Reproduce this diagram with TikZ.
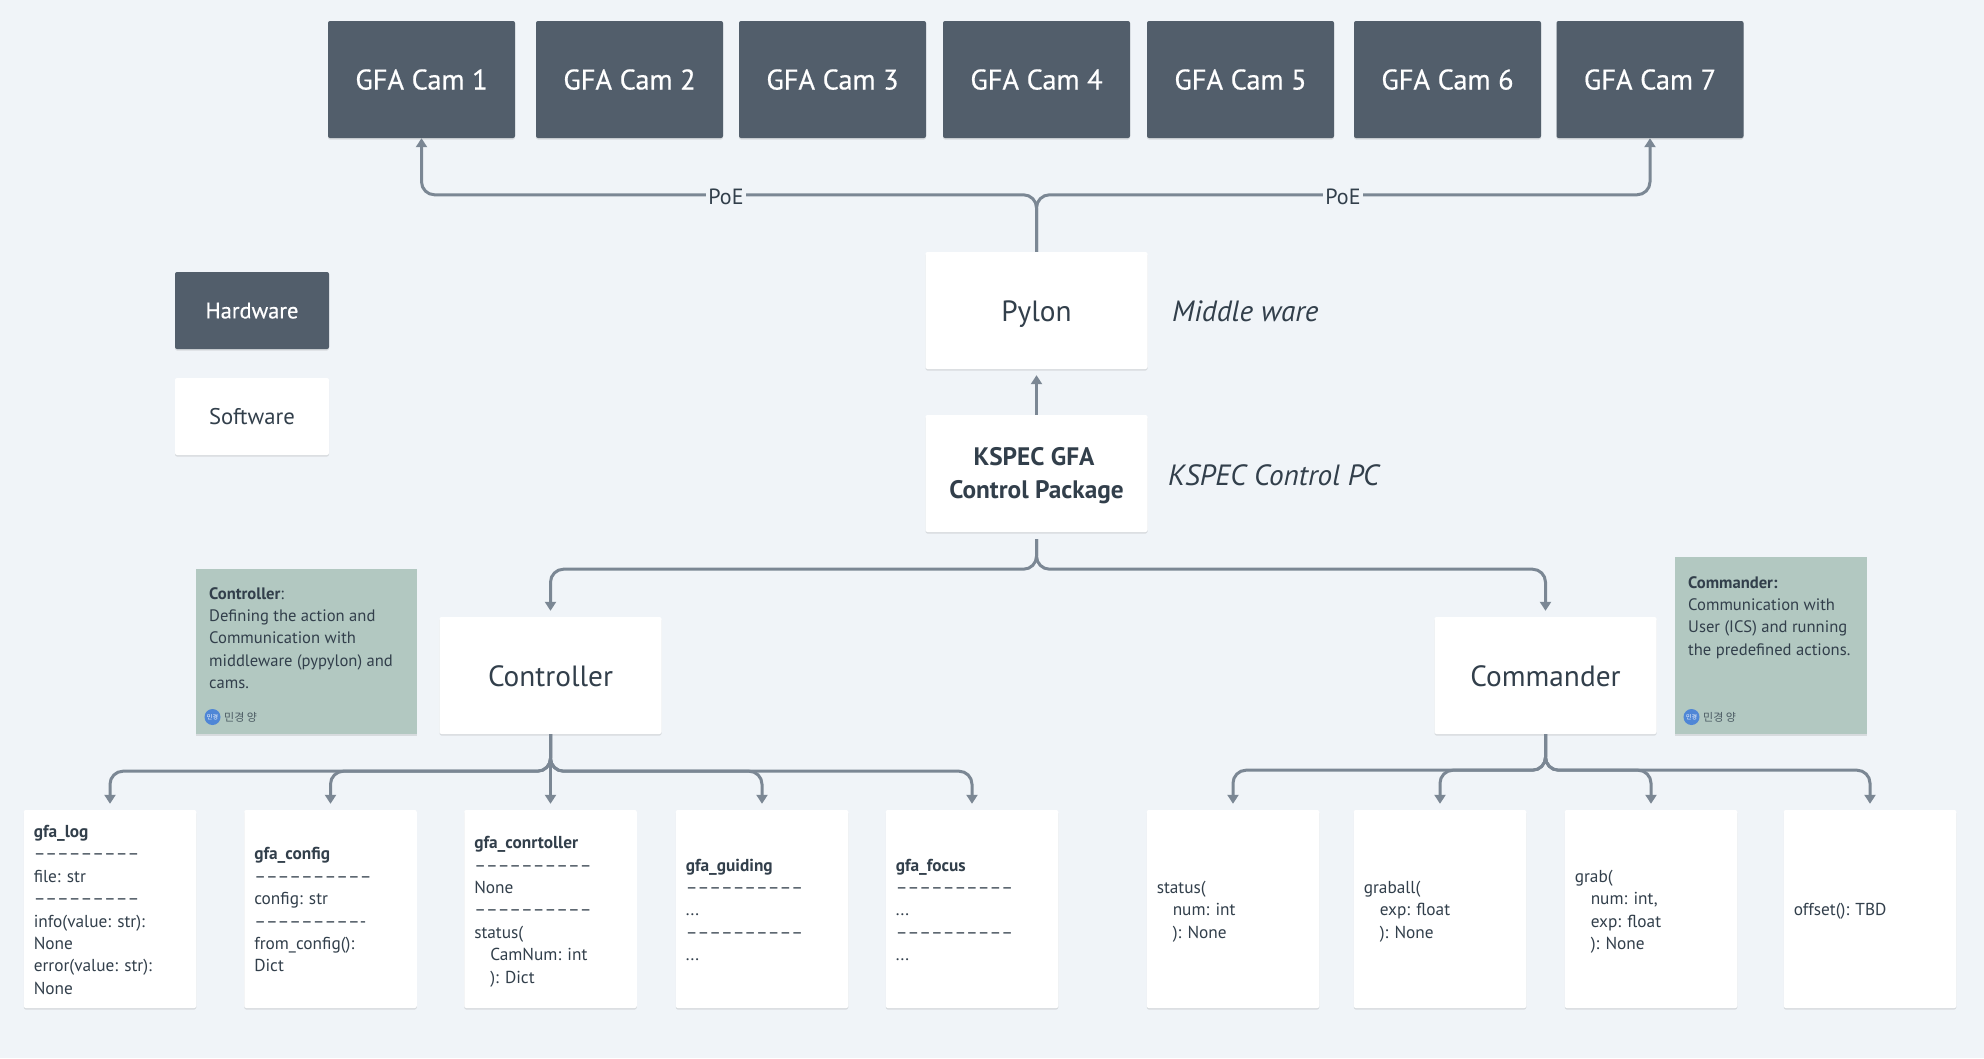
\documentclass[tikz,border=0pt]{standalone}
\usepackage{fontspec}
\setmainfont{PT Sans}
\newfontfamily\krfont{Noto Sans CJK KR}
\newfontfamily\medfont[FakeBold=0.5]{PT Sans}
\newfontfamily\dashfont{PT Sans}
\usetikzlibrary{arrows.meta,shadows,calc}
\definecolor{bgc}{HTML}{F0F4F8}
\definecolor{darkc}{HTML}{525E6B}
\definecolor{notec}{HTML}{B2C8C1}
\definecolor{txtc}{HTML}{323F4B}
\definecolor{linec}{HTML}{7B8794}
\definecolor{avac}{HTML}{4F86D6}
\newcommand{\dashes}[1]{{\dashfont\fontsize{17.8}{22.4}\selectfont #1}}
\tikzset{
  x=1pt,y=-1pt,
  softshadow/.style={general shadow={fill=black,opacity=.10,shadow yshift=-1.5pt}},
  hwbox/.style={fill=darkc,text=white,rounded corners=2pt,softshadow,inner sep=0pt,align=center},
  swbox/.style={fill=white,text=txtc,rounded corners=2pt,softshadow,inner sep=0pt,align=center},
  cam/.style={hwbox,minimum width=187pt,minimum height=117pt,font=\medfont\fontsize{28.4}{32}\selectfont,text depth=0pt,text height=20pt},
  big/.style={swbox,minimum width=222pt,minimum height=117pt,font=\fontsize{29.3}{33}\selectfont,text depth=0pt,text height=22pt},
  leaf/.style={swbox,minimum width=172.5pt,minimum height=198pt},
  leaftext/.style={anchor=west,align=left,text=txtc,inner sep=0pt,yshift=-2.5pt,font=\fontsize{17.3}{22.4}\selectfont},
  note/.style={fill=notec,softshadow,inner sep=0pt},
  notetext/.style={anchor=north west,align=left,text=txtc,inner sep=0pt,font=\fontsize{16.6}{22.4}\selectfont},
  conn/.style={draw=linec,line width=3pt,rounded corners=13pt,-{Triangle[length=9pt,width=11pt]}},
  gap/.style={shorten >=6pt},
  edgelabel/.style={fill=bgc,text=txtc,inner sep=2pt,font=\fontsize{22}{24}\selectfont},
  mid/.style={text=txtc,inner sep=0pt,font=\fontsize{29.3}{33}\itshape\selectfont},
  legendtext/.style={minimum width=154pt,minimum height=77pt,text depth=0pt},
  avatar/.style={circle,fill=avac,minimum size=16pt,inner sep=0pt,text=white,font=\krfont\fontsize{6}{6}\selectfont},
  author/.style={anchor=west,inner sep=0pt,text=txtc!80!notec,font=\krfont\fontsize{11}{13}\selectfont},
}
\begin{document}
\begin{tikzpicture}
\useasboundingbox[fill=bgc] (0,0) rectangle (1984,1058);

% cameras
\node[cam] (c1) at (421.5,79.5) {GFA Cam 1};
\node[cam] (c2) at (629.5,79.5) {GFA Cam 2};
\node[cam] (c3) at (832.5,79.5) {GFA Cam 3};
\node[cam] (c4) at (1036.5,79.5) {GFA Cam 4};
\node[cam] (c5) at (1240.5,79.5) {GFA Cam 5};
\node[cam] (c6) at (1447.5,79.5) {GFA Cam 6};
\node[cam] (c7) at (1650,79.5) {GFA Cam 7};

% legend
\node[hwbox,legendtext,font=\medfont\fontsize{22.5}{24}\selectfont] (hw) at (252,310.5) {Hardware};
\node[swbox,legendtext,font=\fontsize{22.7}{24}\selectfont] (sw) at (252,416.5) {Software};

% middle
\node[big] (pylon) at (1036.5,310.5) {Pylon};
\node[big,font=\bfseries\fontsize{25.3}{33}\selectfont,text depth=,text height=] (pkg) at (1036.5,473.5) {\rule{0pt}{22pt}KSPEC GFA\hspace*{5pt}\\Control Package};
\node[big] (ctrl) at (550.5,675.5) {Controller};
\node[big] (cmd) at (1545.5,675.5) {Commander};

\node[mid,anchor=west] (mw) at (1172,311.5) {Middle ware};
\node[mid,anchor=west] (pc) at (1168,475) {KSPEC Control PC};

% notes
\node[note,minimum width=221pt,minimum height=165pt] (n1) at (306.5,651.5) {};
\node[notetext] (n1t) at (209,587) {\textbf{Controller}:\\Defining the action and\\Communication with\\middleware (pypylon) and\\cams.};
\node[avatar] (a1) at (212.5,717) {민경};
\node[author] (a1t) at (224,717) {민경 양};
\node[note,minimum width=192pt,minimum height=177pt] (n2) at (1771,645.5) {};
\node[notetext] (n2t) at (1688,576) {\textbf{Commander:}\\Communication with\\User (ICS) and running\\the predefined actions.};
\node[avatar] (a2) at (1691.5,717) {민경};
\node[author] (a2t) at (1703,717) {민경 양};

% leaves
\node[leaf] (l1) at (110,909) {};
\node[leaf] (l2) at (330.5,909) {};
\node[leaf] (l3) at (550.5,909) {};
\node[leaf] (l4) at (762,909) {};
\node[leaf] (l5) at (972,909) {};
\node[leaf] (l6) at (1233,909) {};
\node[leaf] (l7) at (1440,909) {};
\node[leaf] (l8) at (1651,909) {};
\node[leaf] (l9) at (1870,909) {};

\node[leaftext] (t1) at ([xshift=10pt]l1.west) {\strut\textbf{gfa\_log}\\\dashes{–––––––––}\\file: str\\\dashes{–––––––––}\\info(value: str):\\None\\error(value: str):\\None\strut};
\node[leaftext] (t2) at ([xshift=10pt]l2.west) {\strut\textbf{gfa\_config}\\\dashes{––––––––––}\\config: str\\\dashes{–––––––––-}\\from\_config():\\Dict\strut};
\node[leaftext] (t3) at ([xshift=10pt]l3.west) {\strut\textbf{gfa\_conrtoller}\\\dashes{––––––––––}\\None\\\dashes{––––––––––}\\status(\\\hspace*{16pt}CamNum: int\\\hspace*{16pt}): Dict\strut};
\node[leaftext] (t4) at ([xshift=10pt]l4.west) {\strut\textbf{gfa\_guiding}\\\dashes{––––––––––}\\...\\\dashes{––––––––––}\\...\strut};
\node[leaftext] (t5) at ([xshift=10pt]l5.west) {\strut\textbf{gfa\_focus}\\\dashes{––––––––––}\\...\\\dashes{––––––––––}\\...\strut};
\node[leaftext] (t6) at ([xshift=10pt]l6.west) {\strut status(\\\hspace*{16pt}num: int\\\hspace*{16pt}): None\strut};
\node[leaftext] (t7) at ([xshift=10pt]l7.west) {\strut graball(\\\hspace*{16pt}exp: float\\\hspace*{16pt}): None\strut};
\node[leaftext] (t8) at ([xshift=10pt]l8.west) {\strut grab(\\\hspace*{16pt}num: int,\\\hspace*{16pt}exp: float\\\hspace*{16pt}): None\strut};
\node[leaftext] (t9) at ([xshift=10pt]l9.west) {\strut offset(): TBD\strut};

% connectors
\draw[conn] (pylon.north) -- ++(0,-57) -| (c1.south);
\draw[conn] (pylon.north) -- ++(0,-57) -| (c7.south);
\draw[conn,shorten >=6pt] (pkg.north) -- (pylon.south);
\draw[conn,gap] ([yshift=-7pt]pkg.south) -- ++(0,30) -| (ctrl.north);
\draw[conn,gap] ([yshift=-7pt]pkg.south) -- ++(0,30) -| (cmd.north);
\foreach \t in {l1,l2,l4,l5}
  \draw[conn,gap] (ctrl.south) -- ++(0,37) -| (\t.north);
\draw[conn,gap] (ctrl.south) -- (l3.north);
\foreach \t in {l6,l7,l8,l9}
  \draw[conn,gap] (cmd.south) -- ++(0,36) -| (\t.north);

\node[edgelabel] (poe1) at (726,197) {PoE};
\node[edgelabel] (poe2) at (1343,197) {PoE};
\end{tikzpicture}
\end{document}
